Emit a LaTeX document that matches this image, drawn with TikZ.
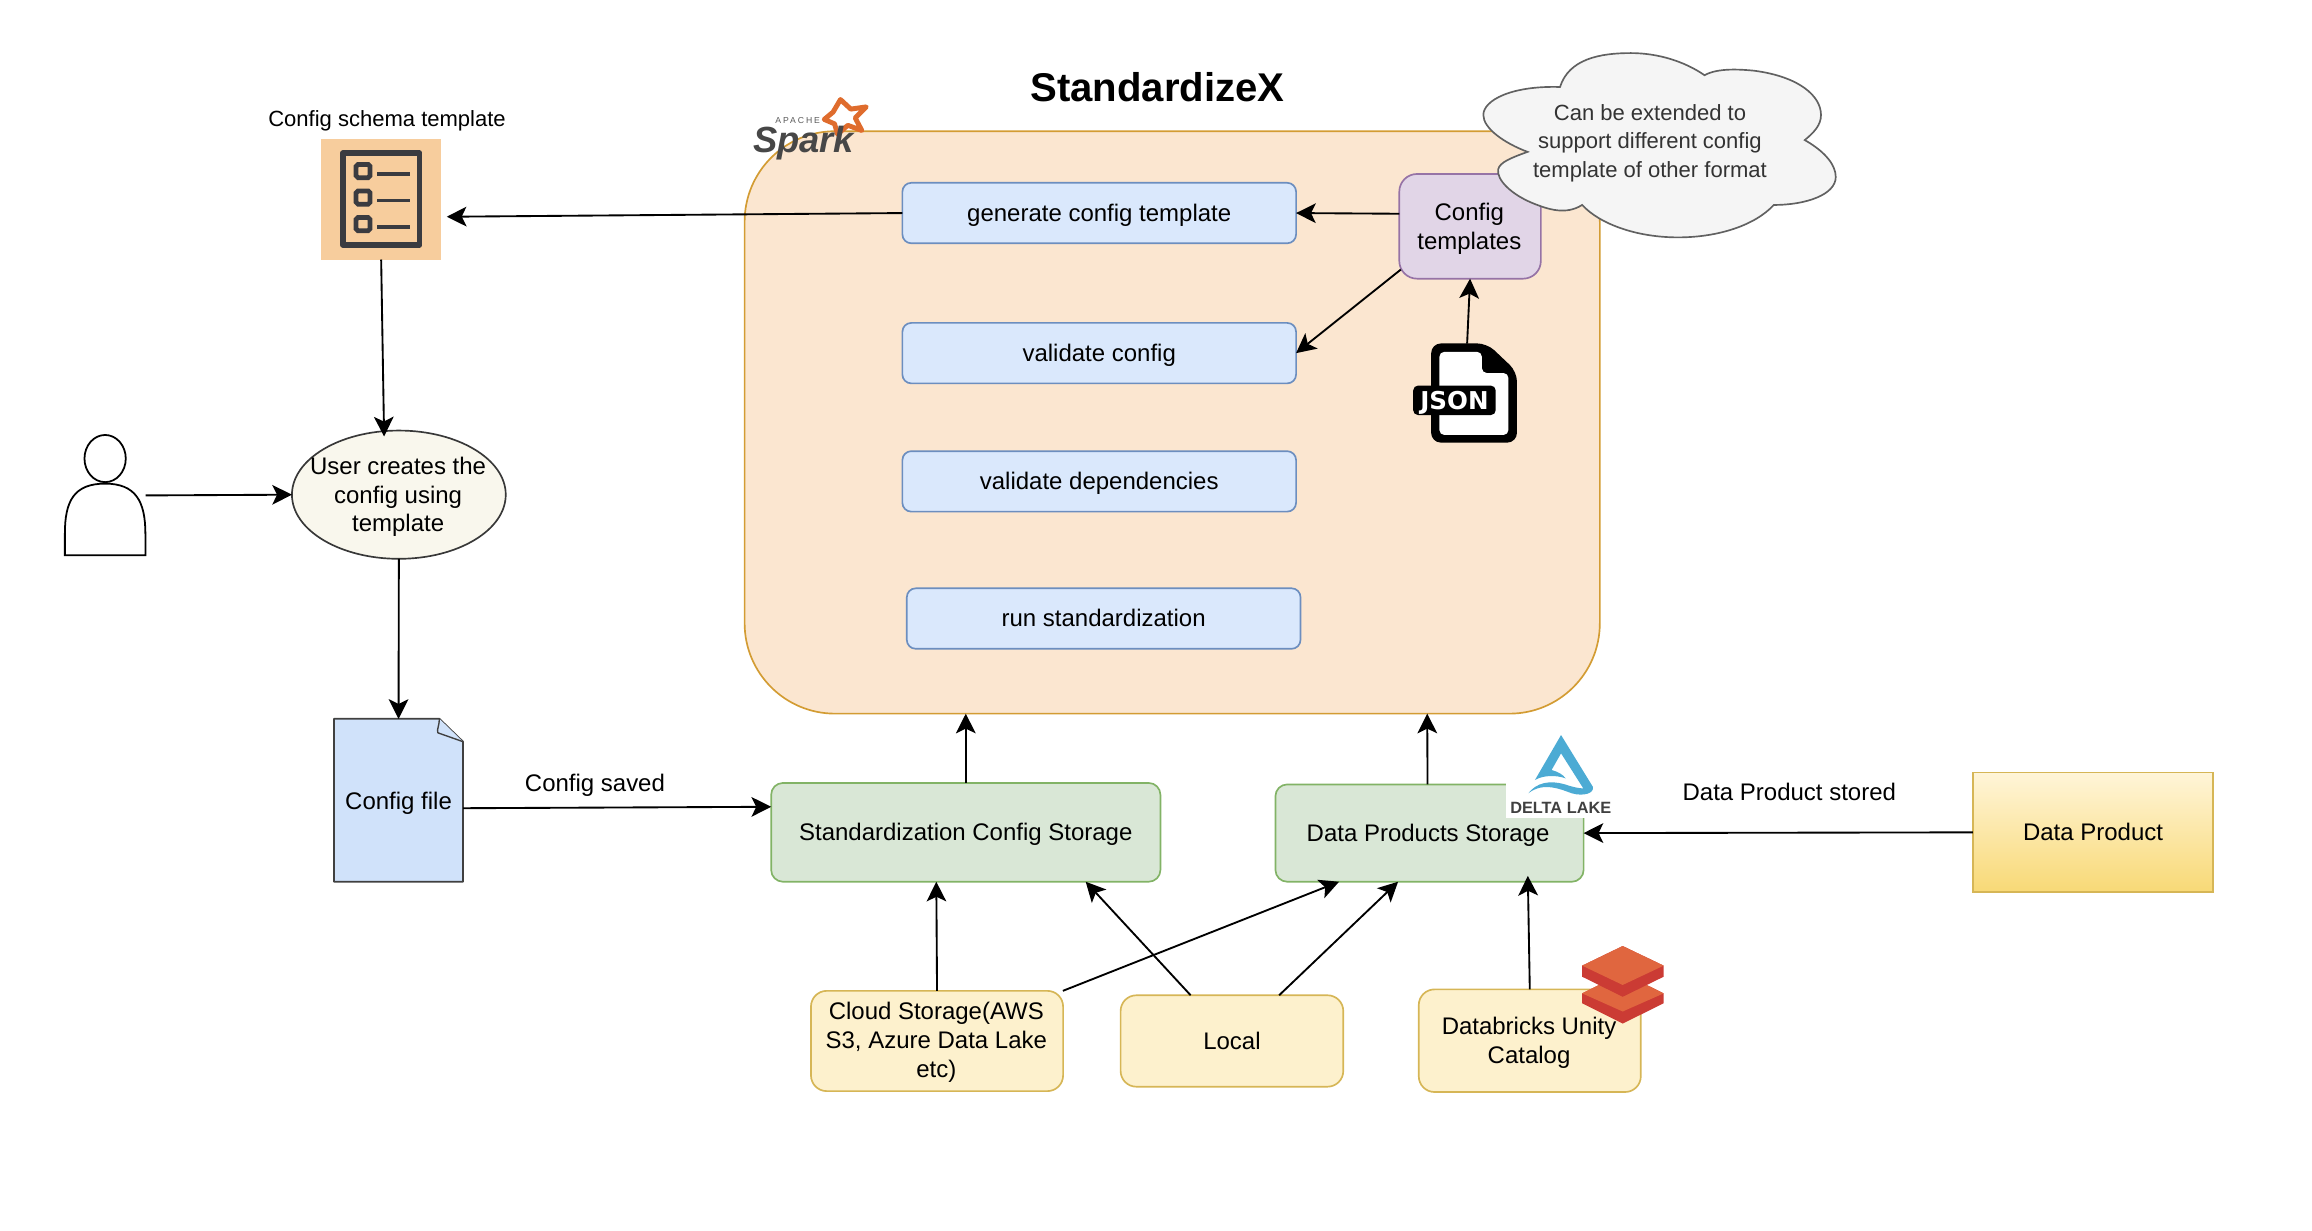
\documentclass[tikz,border=0pt]{standalone}
\usepackage{fontspec}
\setmainfont{Liberation Sans}
\newfontfamily\jsonfont{DejaVu Sans}
\usetikzlibrary{arrows.meta,shapes.geometric}
\def\uu{0.75pt}
\tikzset{
  base/.style={draw,inner sep=0pt,outer sep=0pt,align=center,line width=0.85pt,font=\fontsize{12.2}{14.7}\selectfont,execute at begin node={\rule[-2.6pt]{0pt}{13.6pt}}},
  bluebox/.style={base,fill=BlueFill,draw=BlueLine,rounded corners=4.5pt,minimum width=267*\uu,minimum height=41*\uu},
  greenbox/.style={base,fill=GreenFill,draw=GreenLine,rounded corners=6pt,minimum height=67*\uu},
  yellowbox/.style={base,fill=YellowFill,draw=YellowLine,rounded corners=8pt},
  plain/.style={inner sep=0pt,outer sep=0pt,align=center,font=\fontsize{12.2}{14.7}\selectfont},
  tlabel/.style={plain,execute at begin node={\rule[-2.6pt]{0pt}{13.6pt}}},
  ghost/.style={inner sep=0pt,outer sep=0pt},
  conn/.style={-{Stealth[length=10pt,width=10pt,inset=2.4pt]},line width=0.95pt,black},
}
\definecolor{BlueFill}{HTML}{DAE8FC}\definecolor{BlueLine}{HTML}{6C8EBF}
\definecolor{GreenFill}{HTML}{D9E7D6}\definecolor{GreenLine}{HTML}{82B366}
\definecolor{YellowFill}{HTML}{FDF1CD}\definecolor{YellowLine}{HTML}{D6B656}
\definecolor{SparkFill}{HTML}{FBE6D0}\definecolor{SparkLine}{HTML}{D39C33}
\definecolor{PurpleFill}{HTML}{E1D5E7}\definecolor{PurpleLine}{HTML}{9673A6}
\definecolor{Orange}{HTML}{F7CD9D}\definecolor{IconDark}{HTML}{3A3B40}
\definecolor{SparkStar}{HTML}{DF6C2D}\definecolor{DeltaBlue}{HTML}{4CABD4}
\definecolor{BrickLight}{HTML}{E0663F}\definecolor{BrickDark}{HTML}{CB3B34}
\definecolor{EllFill}{HTML}{F9F7ED}\definecolor{FileFill}{HTML}{D0E2FA}
\definecolor{ProdTop}{HTML}{FFF5D8}\definecolor{ProdBottom}{HTML}{F8D976}
\begin{document}
\begin{tikzpicture}[x=0.75pt,y=-0.75pt]
\useasboundingbox (0,0) rectangle (1568,834.2);
% title
\node[plain,font=\fontsize{20.4}{24}\selectfont\bfseries] (title) at (785,59) {StandardizeX};
% spark container
\node[base,fill=SparkFill,draw=SparkLine,rounded corners=46pt,minimum width=580*\uu,minimum height=395*\uu] (spark) at (795,286.5) {};
% spark logo
\draw[SparkStar,fill=white,line width=2.5pt,line join=round] (570,67.5) -- (577,74) -- (587.5,72.5) -- (580,80) -- (584.5,88.5) -- (575,85) -- (568,91) -- (566,84) -- (559,81) -- (565,76) -- cycle;
\node[plain,font=\fontsize{18.5}{20}\selectfont\bfseries\itshape,text=black!72] (sparkword) at (545,97) {Spark};
\node[plain,font=\fontsize{4.4}{5}\selectfont\addfontfeature{LetterSpace=22},text=black!65] (apache) at (541,81.6) {APACHE};
% function boxes
\node[bluebox] (gen) at (745.5,144.5) {generate config template};
\node[bluebox] (val) at (745.5,239.5) {validate config};
\node[bluebox] (dep) at (745.5,326.5) {validate dependencies};
\node[bluebox] (run) at (748.5,419.5) {run standardization};
\node[base,fill=PurpleFill,draw=PurpleLine,rounded corners=9pt,minimum width=96*\uu,minimum height=71*\uu] (tmpl) at (997,153.5) {};
\node[tlabel] (tmpltext) at (996.5,155) {Config\\templates};
% cloud
\draw[draw=black!62,fill=black!4,line width=0.85pt] (1058,59) .. controls (1064,40) and (1085,36) .. (1106,36) .. controls (1125,36) and (1143,42) .. (1156,51) .. controls (1165,46) and (1180,47) .. (1190,48) .. controls (1220,52) and (1235,65) .. (1235,78) .. controls (1235,85) and (1230,90) .. (1224,95) .. controls (1238,103) and (1245,112) .. (1245,120) .. controls (1245,132) and (1225,139) .. (1203,139) .. controls (1190,153) and (1165,161) .. (1138,161) .. controls (1110,161) and (1085,152) .. (1073,139) .. controls (1062,146) and (1050,142) .. (1040,138) .. controls (1025,132) and (1015,122) .. (1016,115) .. controls (1017,110) and (1025,107) .. (1036,103) .. controls (1020,97) and (1006,87) .. (1006,78) .. controls (1006,68) and (1025,58) .. (1058,59) -- cycle;
\node[plain,font=\fontsize{11.2}{14.6}\selectfont,text=black!80] (cloud) at (1119,97) {Can be extended to\\support different config\\template of other format};
% json icon
\node[ghost,minimum width=67*\uu,minimum height=67*\uu] (json) at (995,266.5) {};
\fill[black,rounded corners=5pt] (970.6,232.9) -- (1008.5,232.9) -- (1028.8,252.1) -- (1028.8,300.2) -- (970.6,300.2) -- cycle;
\fill[white,rounded corners=2.5pt] (976.2,238.6) -- (1005,238.6) -- (1005,253) -- (1023,253) -- (1023,295) -- (976.2,295) -- cycle;
\node[fill=black,rounded corners=2.5pt,text=white,inner sep=0pt,outer sep=0pt,minimum width=56*\uu,minimum height=20*\uu,text height=9.1pt,text depth=0pt,font=\jsonfont\bfseries\fontsize{12.5}{13}\selectfont] (jsonlabel) at (986.4,271.5) {JSON};
% schema icon
\node[ghost,fill=Orange,minimum width=81*\uu,minimum height=82*\uu] (schema) at (258.5,135) {};
\draw[IconDark,line width=3pt,line join=round] (232.5,104) rectangle (284.5,166);
\foreach \yy in {111.5,129.5,147.5}{\draw[IconDark,line width=2.4pt,rounded corners=1pt] (241.5,\yy) rectangle ++(9.5,9);}
\foreach \yy in {118,136,154}{\draw[IconDark,line width=1.8pt] (256,\yy) -- (278,\yy);}
\node[plain,font=\fontsize{11.2}{13}\selectfont] (schemalabel) at (262.5,82) {Config schema template};
% person
\node[ghost,minimum width=55*\uu,minimum height=82*\uu] (person) at (71.3,336) {};
\draw[black,line width=0.9pt,fill=white] (44,376.5) -- (44,362) .. controls (44,340) and (50,328) .. (71.3,328) .. controls (92,328) and (98.6,340) .. (98.6,362) -- (98.6,376.5) -- cycle;
\draw[black,line width=0.9pt,fill=white] (71.3,311) ellipse (14 and 16);
% ellipse
\node[base,ellipse,fill=EllFill,draw=black!78,minimum width=145*\uu,minimum height=87*\uu] (ell) at (270.5,335.5) {};
\node[tlabel] (elltext) at (270,337) {User creates the\\config using\\template};
% config file
\node[ghost,minimum width=87.5*\uu,minimum height=110.5*\uu] (cfile) at (270.3,542.8) {};
\draw[black!75,fill=FileFill,line width=0.9pt,line join=round] (226.5,487.5) -- (298,487.5) -- (314,503) -- (314,598) -- (226.5,598) -- cycle;
\draw[black!75,line width=0.7pt,fill=FileFill] (298,487.5) .. controls (298,492) and (296,495) .. (297,497) -- (314,503);
\node[tlabel] (cfiletext) at (270.3,543.5) {Config file};
% storage
\node[greenbox,minimum width=264*\uu] (stand) at (655,564.5) {Standardization Config Storage};
\node[greenbox,minimum width=209*\uu,minimum height=66*\uu] (prod) at (969.5,565) {};
\node[tlabel] (prodtext) at (968.5,565) {Data Products Storage};
% delta logo
\node[ghost,fill=white,minimum width=73*\uu,minimum height=58*\uu] (delta) at (1058,526) {};
\fill[DeltaBlue] (1058.7,498.5) -- (1080.2,533.5) .. controls (1081.7,538) and (1073.8,540.3) .. (1065.9,538) .. controls (1058,535.1) and (1046.7,530.1) .. (1036.5,538) .. controls (1042.2,530.6) and (1051.2,529) .. (1061.4,532) .. controls (1065.9,533.5) and (1070.4,534.7) .. (1073.8,534.7) -- (1058.7,510.9) -- (1052.3,522.2) .. controls (1056.9,523.4) and (1060.3,525.6) .. (1061.8,527.9) .. controls (1055.7,525.6) and (1046.7,525.6) .. (1041,529) -- cycle;
\node[plain,font=\fontsize{8.3}{9}\selectfont\bfseries,text=black!75] (deltaword) at (1058.5,547.8) {DELTA LAKE};
% sources
\node[yellowbox,minimum width=171*\uu,minimum height=68*\uu] (cloudst) at (635.5,706) {};
\node[tlabel] (cloudsttext) at (635,707) {Cloud Storage(AWS\\S3, Azure Data Lake\\etc)};
\node[yellowbox,minimum width=151*\uu,minimum height=62*\uu] (local) at (835.5,706) {Local};
\node[yellowbox,minimum width=150.6*\uu,minimum height=69.6*\uu] (dbx) at (1037.5,705.8) {};
\node[tlabel] (dbxtext) at (1037,707) {Databricks Unity\\Catalog};
% databricks icon
\fill[BrickDark] (1073,673.7) -- (1100.5,660) -- (1128.3,673.7) -- (1128.3,680.4) -- (1100.5,694.2) -- (1073,680.4) -- cycle;
\fill[BrickLight] (1100.5,660) -- (1128.3,673.7) -- (1100.5,686) -- (1073,673.7) -- cycle;
\fill[BrickDark] (1073,654.9) -- (1100.5,641.6) -- (1128.3,654.9) -- (1128.3,662.4) -- (1100.5,676) -- (1073,662.4) -- cycle;
\fill[BrickLight] (1100.5,641.6) -- (1128.3,654.9) -- (1100.5,668) -- (1073,654.9) -- cycle;
% data product
\node[base,draw=YellowLine,top color=ProdTop,bottom color=ProdBottom,minimum width=163*\uu,minimum height=81*\uu] (dproduct) at (1419.5,564.5) {Data Product};
% labels
\node[tlabel] (saved) at (403.5,531) {Config saved};
\node[tlabel] (stored) at (1213.5,537) {Data Product stored};
% connectors
\draw[conn] (gen.west) -- ([xshift=3pt,yshift=-9pt]schema.east);
\draw[conn] ([yshift=6.4pt]tmpl.west) -- (gen.east);
\draw[conn] ([xshift=0.75pt,yshift=-22pt]tmpl.west) -- (val.east);
\draw[conn] (json.north) -- (tmpl.south);
\draw[conn] (schema.south) -- ([xshift=-7.5pt,yshift=-3pt]ell.north);
\draw[conn] (person.east) -- (ell.west);
\draw[conn] (ell.south) -- (cfile.north);
\draw[conn] ([yshift=-4pt]cfile.east) -- ([yshift=13pt]stand.west);
\draw[conn] (stand.north) -- ([xshift=-105pt]spark.south);
\draw[conn] ([xshift=-1pt]prod.north) -- ([xshift=129.7pt]spark.south);
\draw[conn] (cloudst.north) -- ([xshift=-15pt]stand.south);
\draw[conn] ([xshift=64pt]cloudst.north) -- ([xshift=-46pt]prod.south);
\draw[conn] ([xshift=-21pt]local.north) -- ([xshift=61pt]stand.south);
\draw[conn] ([xshift=24pt]local.north) -- ([xshift=-16pt]prod.south);
\draw[conn] (dbx.north) -- ([xshift=50pt,yshift=3pt]prod.south);
\draw[conn] (dproduct.west) -- (prod.east);
\end{tikzpicture}
\end{document}
